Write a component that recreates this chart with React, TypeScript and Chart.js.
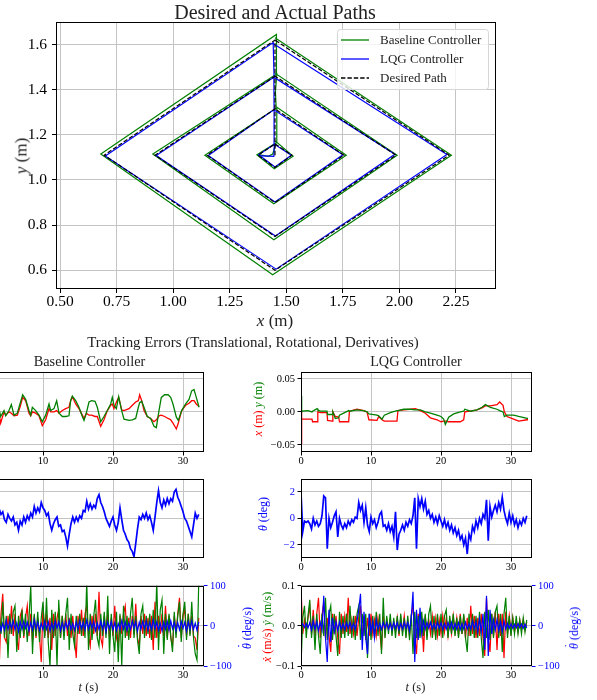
import React, { useEffect, useRef } from 'react';
import { Chart, registerables } from 'chart.js';
Chart.register(...registerables);

const SERIF = "'Liberation Serif', 'Times New Roman', serif";
const GRID = '#c4c4c4';
const RED = '#ff0000';
const GREEN = '#008000';
const BLUE = '#0000ff';

// ---------- Main path plot data ----------
const desiredX = [1.45, 1.45, 1.375, 1.45, 1.525, 1.45, 1.45, 1.15, 1.45, 1.755, 1.45, 1.45, 0.92, 1.45, 1.985, 1.45, 1.45, 0.695, 1.45, 2.22, 1.45];
const desiredY = [1.11, 1.16, 1.11, 1.055, 1.11, 1.16, 1.315, 1.11, 0.9, 1.11, 1.315, 1.46, 1.11, 0.75, 1.11, 1.46, 1.62, 1.11, 0.6, 1.11, 1.62];
const lqgPathX = [1.378, 1.445, 1.447, 1.378, 1.45, 1.522, 1.448, 1.446, 1.155, 1.45, 1.75, 1.446, 1.445, 0.925, 1.452, 1.98, 1.446, 1.442, 0.7, 1.455, 2.21, 1.44];
const lqgPathY = [1.108, 1.105, 1.158, 1.112, 1.058, 1.11, 1.158, 1.312, 1.108, 0.903, 1.112, 1.31, 1.455, 1.108, 0.752, 1.114, 1.455, 1.609, 1.106, 0.605, 1.113, 1.606];
const basePathX = [1.378, 1.42, 1.44, 1.455, 1.37, 1.447, 1.53, 1.455, 1.458, 1.14, 1.445, 1.765, 1.455, 1.452, 1.458, 0.91, 1.445, 1.99, 1.455, 1.455, 1.458, 0.68, 1.44, 2.23, 1.45];
const basePathY = [1.112, 1.105, 1.115, 1.165, 1.112, 1.05, 1.105, 1.17, 1.32, 1.11, 0.895, 1.11, 1.325, 1.39, 1.47, 1.115, 0.735, 1.11, 1.47, 1.55, 1.645, 1.115, 0.58, 1.11, 1.63];
const mainXTicks = [0.5, 0.75, 1.0, 1.25, 1.5, 1.75, 2.0, 2.25];
const mainYTicks = [0.6, 0.8, 1.0, 1.2, 1.4, 1.6];

// ---------- Tracking errors: translational (m) ----------
const baseErrT = [0, 0.8, 1.6, 2.4, 3.1,
  3.71, 3.95, 4.43, 4.67, 5.14, 5.48, 5.86, 6.33, 6.71, 7.10,
  7.52, 8.00, 8.24, 8.48, 8.95, 9.43, 9.90, 10.38, 10.86, 11.10,
  11.57, 11.95, 12.29, 12.76, 13.24, 13.71, 13.95, 14.19, 14.67, 15.14,
  15.62, 15.86, 16.19, 16.57, 16.95, 17.43, 17.76, 18.24, 18.71, 19.19,
  19.67, 19.90, 20.14, 20.48, 20.81, 21.24, 21.57, 22.29, 22.76, 23.24,
  23.62, 23.81, 24.10, 24.43, 24.90, 25.38, 25.86, 26.19, 26.57, 26.90,
  27.38, 27.86, 28.24, 28.57, 29.05, 29.33, 29.81, 30.38, 30.86, 31.24,
  31.57, 31.90, 32.29];
const baseErrX = [0, -0.006, 0.004, -0.008, 0.003,
  -0.002, -0.017, 0.000, -0.005, 0.000, -0.002, -0.006, -0.005, 0.007, 0.022,
  0.017, -0.002, -0.006, 0.000, -0.002, -0.006, -0.021, -0.012, 0.005, 0.000,
  0.000, 0.002, -0.002, 0.002, 0.005, 0.007, 0.017, 0.023, 0.012, 0.005,
  -0.005, -0.010, -0.002, -0.005, -0.005, -0.007, -0.007, -0.022, -0.012, 0.002,
  0.010, 0.012, 0.005, 0.015, 0.022, 0.003, 0.002, 0.005, 0.010, 0.015,
  0.017, 0.026, 0.017, 0.002, -0.007, -0.010, -0.015, -0.012, -0.006, -0.005,
  -0.007, -0.010, -0.012, -0.017, -0.026, -0.017, 0.002, 0.010, 0.013, 0.017,
  0.017, 0.012, 0.008];
const baseErrY = [0, 0.008, -0.004, 0.006, -0.003,
  0.005, -0.007, 0.002, -0.006, 0.002, 0.011, -0.005, -0.002, 0.012, 0.026,
  0.019, 0.002, -0.005, 0.007, 0.002, -0.005, -0.015, -0.005, 0.012, 0.002,
  0.005, 0.017, -0.002, -0.007, -0.007, -0.006, 0.017, 0.024, 0.017, 0.007,
  -0.007, -0.013, -0.002, 0.015, 0.017, 0.016, 0.007, -0.015, -0.007, 0.002,
  0.012, 0.022, 0.010, 0.005, 0.023, 0.002, -0.011, -0.013, -0.012, -0.010,
  0.007, 0.014, 0.016, 0.007, -0.007, -0.010, -0.022, -0.024, 0.002, 0.022,
  0.026, 0.026, 0.022, 0.012, -0.008, -0.013, 0.002, 0.012, 0.019, 0.032,
  0.034, 0.022, 0.007];

const lqgErrT = [0, 0.04, 0.14, 1.0, 1.57, 1.65, 2.29, 2.4, 2.76, 3.71,
  3.8, 4.43, 4.55, 4.9, 5.38, 5.5, 6.81, 6.92, 8.0, 8.95,
  9.43, 9.7, 10.86, 11.1, 11.57, 11.9, 12.76, 13.71, 13.85, 14.67,
  15.62, 16.33, 17.05, 17.76, 18.48, 19.43, 20.0, 20.38, 20.62, 21.1,
  21.81, 22.76, 23.24, 23.4, 24.19, 25.14, 25.86, 26.33, 27.05, 28.0,
  28.38, 28.86, 29.05, 29.43, 30.38, 31.1, 32.29, 32.43];
const lqgErrX = [0.0, -0.049, -0.011, -0.011, -0.011, -0.015, -0.015, 0.000, -0.001, -0.001,
  -0.013, -0.014, 0.000, -0.007, -0.008, -0.015, -0.015, 0.001, 0.004, 0.002,
  0.000, -0.012, -0.013, -0.007, -0.012, -0.014, -0.014, -0.014, 0.002, 0.003,
  0.004, 0.005, 0.002, -0.002, -0.009, -0.012, -0.015, -0.014, -0.014, -0.015,
  -0.015, -0.015, -0.012, 0.000, 0.001, 0.003, 0.006, 0.009, 0.009, 0.011,
  0.015, 0.010, 0.000, -0.007, -0.011, -0.014, -0.012, -0.012];
const lqgErrY = [0.0, 0.024, 0.001, 0.002, 0.000, 0.001, 0.005, 0.003, 0.001, 0.001,
  -0.004, -0.004, 0.000, -0.010, -0.009, -0.005, 0.002, 0.001, 0.003, 0.002,
  0.000, -0.003, -0.005, -0.006, -0.011, -0.005, -0.001, 0.002, 0.002, 0.004,
  0.004, 0.003, 0.003, 0.000, -0.002, -0.005, -0.007, -0.011, -0.019, -0.008,
  -0.003, 0.000, 0.001, 0.004, 0.001, 0.003, 0.007, 0.011, 0.007, 0.004,
  0.002, 0.000, -0.007, -0.005, -0.005, -0.007, -0.010, -0.010];

// ---------- Sampled series on a 0.25 s grid ----------
const DT = 0.25;
const baseTheta = [
  0.0, 0.3, -0.2, 0.4, 0.1, 0.5, 0.2, 0.6, 0.3, 0.7,
  0.4, 0.9, 0.5, 0.8, 0.4, 0.7, 0.3, 0.5, -0.1, -0.3,
  0.3, 0.0, -0.2, 0.1, -0.5, -0.3, -0.9, -0.2, -0.5, 0.1,
  -0.3, 0.2, -0.1, 0.4, 0.1, 0.9, 0.4, 0.8, 0.5, 1.2,
  0.8, 0.6, 0.2, 0.4, -0.4, -0.9, -0.4, -0.1, 0.1, -0.6,
  -0.5, -1.0, -0.9, -1.4, -2.1, -1.2, -0.4, 0.1, -0.3, 0.1,
  -0.2, 0.2, 0.0, 0.6, 0.5, 1.3, 0.7, 1.1, 0.7, 1.0,
  0.8, 1.5, 1.8, 1.2, 0.9, 0.5, 0.0, -0.3, -0.6, -0.2,
  0.1, -0.5, -0.9, -0.3, 0.8, -0.1, -0.9, -1.2, -1.6, -1.8,
  -2.3, -2.5, -2.9, -1.9, -0.8, 0.1, -0.1, 0.3, 0.0, 0.4,
  -0.1, 0.2, -0.3, -0.9, 0.1, 1.2, 2.1, 1.2, 0.8, 1.4,
  1.0, 1.5, 1.1, 1.5, 1.3, 2.0, 2.2, 1.6, 1.3, 0.9,
  0.5, 0.0, -0.2, -0.6, -1.0, -1.4, -0.5, 0.4, 0.0, 0.3];
const lqgTheta = [
  2.0, -1.0, -0.2, -0.3, -0.2, -0.4, -0.8, 0.0, -0.5, -0.2,
  -0.6, -0.4, 0.2, 1.7, 1.55, -2.3, 0.0, -0.7, -0.3, 0.2,
  0.5, -1.4, 0.0, -0.5, -0.8, -0.4, -0.7, -0.2, -0.5, -0.1,
  -0.3, 0.1, 0.0, 1.2, 0.6, 1.0, -0.3, 0.8, -0.5, -1.0,
  0.1, -0.4, -0.1, -0.7, -0.3, 0.3, 0.5, -0.6, -0.5, -0.9,
  -0.4, -1.0, -0.6, -1.4, 0.5, -2.4, -1.2, -0.9, -0.5, -0.9,
  -0.3, -0.6, -0.1, -0.4, 0.2, 1.55, -2.3, 1.5, 0.9, 1.5,
  0.7, 1.3, 0.3, 0.6, 0.0, 0.3, -0.3, 0.1, -0.4, 0.2,
  -0.2, -0.6, -0.1, -0.7, -0.3, -0.9, -0.5, -1.1, -0.7, -1.3,
  -0.9, -1.6, -1.3, -2.0, -1.5, -2.7, -1.2, -1.6, -0.6, -1.0,
  -0.2, -0.7, 0.0, -0.4, 0.3, 0.0, 1.4, -1.7, 0.9, 0.1,
  0.6, 1.0, 0.5, 1.2, 0.7, 1.6, 0.6, 0.0, -0.4, 0.4,
  -0.3, 0.2, -0.5, -0.1, -0.7, -0.2, -0.5, 0.0, -0.3, 0.2];

const baseVx = [
  0.000, -0.030, 0.040, -0.025, 0.030, -0.045, 0.020, -0.035, 0.045, -0.020,
  0.030, -0.040, 0.025, -0.030, 0.035, -0.100, 0.030, 0.080, -0.030, -0.040,
  0.025, -0.020, 0.050, -0.025, 0.030, -0.030, -0.060, 0.025, 0.040, -0.030,
  0.020, 0.050, -0.025, 0.030, -0.040, 0.025, -0.030, 0.020, -0.025, -0.090,
  0.050, -0.025, 0.030, -0.030, 0.020, -0.060, 0.030, -0.025, 0.020, 0.040,
  -0.030, 0.025, -0.020, 0.030, -0.025, 0.020, -0.030, 0.025, -0.030, -0.080,
  0.025, -0.020, 0.040, -0.025, 0.030, 0.050, -0.025, -0.050, 0.025, -0.020,
  0.030, -0.025, 0.085, -0.030, -0.050, 0.025, -0.020, 0.030, -0.030, 0.020,
  -0.025, 0.050, -0.030, -0.050, 0.025, -0.020, 0.030, 0.050, -0.025, 0.020,
  -0.030, 0.025, -0.020, 0.055, -0.030, -0.050, 0.025, -0.020, 0.030, -0.025,
  0.020, -0.030, 0.025, -0.060, 0.060, -0.030, 0.025, -0.020, 0.030, -0.025,
  0.050, -0.030, 0.025, -0.030, -0.050, 0.025, -0.020, 0.030, 0.070, -0.030,
  0.025, 0.040, -0.025, 0.030, -0.020, 0.025, -0.025, -0.030, -0.060, 0.020];
const baseVy = [
  0.000, 0.030, -0.040, 0.020, -0.050, 0.045, -0.020, 0.035, -0.045, 0.025,
  -0.030, 0.050, -0.035, 0.020, -0.040, 0.030, -0.020, 0.060, -0.030, 0.025,
  -0.080, 0.030, -0.020, 0.035, 0.050, -0.065, 0.025, -0.030, 0.040, -0.025,
  0.030, -0.040, 0.020, 0.100, -0.070, 0.030, -0.025, 0.035, -0.040, 0.020,
  0.060, -0.030, 0.070, -0.040, -0.100, 0.040, -0.030, 0.035, -0.100, 0.065,
  -0.030, 0.025, -0.035, 0.030, 0.070, -0.060, 0.030, -0.020, -0.050, 0.025,
  -0.020, 0.030, -0.025, 0.020, -0.030, 0.110, -0.060, 0.030, -0.035, 0.025,
  0.065, -0.030, -0.050, 0.030, -0.025, 0.035, -0.030, 0.075, -0.070, 0.030,
  -0.025, -0.065, 0.035, -0.090, 0.030, -0.100, 0.050, -0.030, 0.025, -0.035,
  0.030, 0.070, -0.030, 0.025, -0.035, -0.070, 0.030, 0.050, -0.030, 0.025,
  -0.020, 0.030, -0.035, 0.040, -0.030, 0.110, -0.060, 0.040, 0.065, -0.070,
  0.030, -0.035, 0.030, -0.025, -0.065, 0.035, -0.030, 0.025, 0.060, -0.040,
  0.030, 0.060, -0.035, 0.030, -0.025, 0.060, -0.030, -0.070, -0.085, 0.110];
const baseRate = [
  0, 10, -8, 12, -11, 7, -9, 14, -6, 9,
  -13, 8, -10, 11, -7, 9, -12, 6, -10, 13,
  -8, 10, -6, 12, -9, 7, -14, 10, -8, 11,
  -6, 9, -12, 8, -10, 15, -7, 9, -11, 6,
  -9, 12, -8, 10, -13, 7, -9, 11, -6, 10,
  -12, 8, -10, 9, -7, 13, -9, 6, -11, 10,
  -8, 12, -7, 9, -10, 14, -8, 11, -6, 10,
  -12, 7, -9, 12, -8, 10, -15, 9, -7, 11,
  -10, 8, -12, 6, -9, 13, -8, 10, -11, 7,
  -9, 12, -6, 10, -13, 9, -8, 11, -7, 12,
  -10, 8, -9, 14, -7, 10, -11, 6, -12, 9,
  -8, 11, -10, 13, -7, 9, -12, 8, -10, 11,
  -6, 9, -13, 10, -8, 12, -9, 7, -11, 10];

const lqgVx = [
  0.100, -0.020, 0.015, -0.010, 0.020, 0.050, -0.020, 0.040, -0.025, 0.030,
  0.070, -0.030, 0.025, 0.060, -0.030, 0.020, -0.025, -0.065, 0.030, -0.020,
  0.025, -0.030, -0.070, 0.030, -0.020, 0.025, -0.015, 0.070, -0.020, 0.015,
  -0.020, 0.025, -0.025, 0.020, 0.050, -0.030, 0.025, -0.035, 0.020, -0.025,
  0.030, -0.020, 0.015, -0.025, 0.020, -0.015, -0.060, 0.025, -0.020, 0.015,
  -0.010, 0.015, -0.015, 0.010, -0.015, 0.020, -0.025, 0.020, -0.015, 0.025,
  -0.020, 0.015, -0.025, 0.020, 0.055, -0.030, -0.070, 0.030, -0.025, 0.020,
  -0.065, 0.025, -0.020, 0.015, -0.020, 0.025, -0.015, 0.020, -0.025, 0.015,
  -0.020, 0.025, -0.015, 0.020, -0.025, 0.015, -0.020, 0.025, -0.015, 0.020,
  -0.025, 0.030, -0.020, 0.025, -0.030, 0.020, -0.025, 0.050, -0.020, 0.025,
  -0.030, 0.020, -0.025, 0.030, -0.030, -0.075, 0.070, -0.030, -0.065, 0.030,
  -0.025, 0.035, -0.060, 0.030, -0.025, 0.030, -0.080, 0.035, -0.020, 0.025,
  -0.015, 0.020, -0.015, 0.010, -0.015, 0.015, -0.010, 0.015, -0.010, 0.010];
const lqgVy = [
  -0.100, 0.020, 0.050, -0.030, 0.025, 0.065, -0.030, 0.025, -0.060, 0.030,
  -0.025, -0.070, 0.030, -0.025, 0.070, -0.035, 0.030, 0.050, -0.035, 0.030,
  -0.025, -0.075, 0.035, -0.030, 0.025, -0.030, 0.030, -0.025, 0.050, -0.030,
  0.025, -0.035, 0.030, 0.050, -0.035, 0.030, -0.025, 0.030, -0.080, 0.030,
  -0.035, 0.025, -0.030, 0.035, -0.025, 0.030, -0.070, 0.070, -0.030, 0.025,
  -0.020, 0.030, -0.025, 0.020, -0.030, 0.025, -0.020, 0.030, -0.025, 0.020,
  -0.030, 0.025, -0.035, 0.030, -0.070, 0.035, -0.030, 0.025, -0.030, 0.035,
  -0.025, 0.030, -0.035, 0.030, 0.050, -0.030, 0.025, -0.035, 0.030, -0.025,
  0.030, -0.030, 0.025, 0.040, -0.030, 0.025, -0.020, 0.030, -0.025, 0.020,
  -0.030, 0.025, -0.020, 0.030, -0.030, -0.065, 0.030, -0.025, 0.030, -0.030,
  0.025, -0.030, 0.035, -0.030, -0.080, 0.035, -0.030, 0.040, -0.035, 0.030,
  -0.030, 0.035, 0.050, -0.030, 0.030, -0.065, 0.030, 0.070, -0.030, 0.025,
  -0.025, 0.020, -0.020, 0.025, -0.020, 0.015, -0.020, 0.020, -0.015, 0.015];
const lqgRate = [
  0, 5, -4, 6, -5, 8, -10, 12, -8, 10,
  -12, 9, -10, 75, -30, -90, 40, -40, 20, -15,
  10, -12, 9, -8, 6, -9, 8, -6, 9, -8,
  6, -9, 12, 40, 80, -60, 35, -30, -70, 30,
  -15, 10, -30, 15, -8, 6, -9, 8, -6, 8,
  -8, 6, -9, 8, -6, 8, -9, 6, -8, 9,
  -6, 8, -12, 20, 85, -90, 40, -35, 45, -20,
  12, -8, 8, -6, 9, -8, 6, -8, 9, -6,
  8, -9, 6, -8, 8, -6, 9, -8, 6, -8,
  8, -9, 6, -8, 9, -8, 6, -8, 12, -8,
  10, -15, 18, -15, 30, -60, 75, -75, 40, -20,
  15, -10, 15, -12, 10, -15, 12, -8, 6, -6,
  5, -6, 4, -5, 6, -4, 5, -6, 4, -5];

const timeTicks = [0, 10, 20, 30];
const posTicks = [-0.05, 0, 0.05];
const angTicks = [-2, 0, 2];
const velTicks = [-0.1, 0, 0.1];
const rateTicks = [-100, 0, 100];

// ---------- helpers ----------
type Fmt = (v: number) => string;
const minus = (s: string) => s.replace('-', '\u2212');
const f2: Fmt = (v) => minus(v.toFixed(2));
const f1: Fmt = (v) => minus(v.toFixed(1));
const f0: Fmt = (v) => minus(String(Math.round(v)));

const pts = (xs: number[], ys: number[]) => ys.map((y, i) => ({ x: xs[i], y }));
const onGrid = (ys: number[]) => ys.map((y, i) => ({ x: i * DT, y }));

type Area = { l: number; t: number; r: number; b: number };
type Margins = { left: number; right: number; top: number; bottom: number };

interface AxisOpts {
  pos: 'bottom' | 'left' | 'right';
  min: number; max: number; ticks: number[]; fmt: Fmt;
  size: number; extent: number; tl: number; pad: number;
  color?: string; tickColor?: string; grid?: boolean;
}
function axis(o: AxisOpts) {
  const horizontal = o.pos === 'bottom';
  return {
    type: 'linear',
    position: o.pos,
    min: o.min,
    max: o.max,
    afterBuildTicks: (s: any) => { s.ticks = o.ticks.map((v) => ({ value: v })); },
    afterFit: (s: any) => { if (horizontal) s.height = o.extent; else s.width = o.extent; },
    border: { display: false },
    grid: {
      display: true,
      drawOnChartArea: o.grid !== false,
      color: GRID,
      lineWidth: 1,
      drawTicks: true,
      tickLength: o.tl,
      tickColor: o.tickColor || '#000',
      tickWidth: 1,
    },
    ticks: {
      autoSkip: false, maxRotation: 0, minRotation: 0, padding: o.pad,
      color: o.color || '#000',
      font: { family: SERIF, size: o.size, lineHeight: 1 },
      callback: (v: any) => o.fmt(Number(v)),
    },
  };
}

const framePlugin = {
  id: 'frame',
  afterDraw(chart: any) {
    const { ctx, chartArea: a } = chart;
    ctx.save();
    ctx.strokeStyle = '#000';
    ctx.lineWidth = 1;
    ctx.strokeRect(Math.round(a.left) + 0.5, Math.round(a.top) + 0.5, Math.round(a.width) - 1, Math.round(a.height) - 1);
    ctx.restore();
  },
};

const legendPlugin = {
  id: 'pathLegend',
  afterDraw(chart: any) {
    const { ctx, chartArea: a } = chart;
    const items = chart.data.datasets.slice().sort((p: any, q: any) => q.order - p.order);
    const w = 151, h = 60;
    const x0 = a.right - w - 8, y0 = a.top + 7;
    ctx.save();
    ctx.beginPath();
    ctx.roundRect(x0 + 0.5, y0 + 0.5, w, h, 3);
    ctx.fillStyle = 'rgba(255,255,255,0.8)';
    ctx.fill();
    ctx.strokeStyle = '#d6d6d6';
    ctx.lineWidth = 1;
    ctx.stroke();
    ctx.font = `13px ${SERIF}`;
    ctx.textBaseline = 'middle';
    items.forEach((d: any, i: number) => {
      const yy = y0 + 11 + i * 19;
      ctx.beginPath();
      ctx.setLineDash(d.borderDash || []);
      ctx.strokeStyle = d.borderColor;
      ctx.lineWidth = 1.3;
      ctx.moveTo(x0 + 4, yy);
      ctx.lineTo(x0 + 32, yy);
      ctx.stroke();
      ctx.setLineDash([]);
      ctx.fillStyle = '#222';
      ctx.fillText(d.label, x0 + 43, yy + 1);
    });
    ctx.restore();
  },
};

function line(label: string, data: any[], color: string, width: number, order: number, extra: any = {}) {
  return { label, data, showLine: true, borderColor: color, backgroundColor: color, borderWidth: width, pointRadius: 0, fill: false, tension: 0, order, ...extra };
}

function baseOptions(scales: any, padding: any) {
  return {
    responsive: false,
    animation: false,
    devicePixelRatio: 1,
    events: [],
    layout: { padding },
    plugins: { legend: { display: false }, tooltip: { enabled: false }, title: { display: false } },
    scales,
  };
}

function ChartBox({ area, m, build }: { area: Area; m: Margins; build: (m: Margins) => any }) {
  const ref = useRef<HTMLCanvasElement>(null);
  const w = area.r - area.l + m.left + m.right;
  const h = area.b - area.t + m.top + m.bottom;
  useEffect(() => {
    const chart = new Chart(ref.current as HTMLCanvasElement, build(m));
    return () => chart.destroy();
  }, []);
  return (
    <canvas
      ref={ref}
      width={w}
      height={h}
      style={{ position: 'absolute', left: area.l - m.left, top: area.t - m.top, width: w, height: h }}
    />
  );
}

// ---------- chart builders ----------
const buildMain = (m: Margins) => ({
  type: 'scatter',
  data: {
    datasets: [
      line('Baseline Controller', pts(basePathX, basePathY), GREEN, 1.2, 2),
      line('LQG Controller', pts(lqgPathX, lqgPathY), BLUE, 1.2, 1),
      line('Desired Path', pts(desiredX, desiredY), '#000', 1.2, 0, { borderDash: [4.4, 2] }),
    ],
  },
  options: baseOptions(
    {
      x: axis({ pos: 'bottom', min: 0.482, max: 2.427, ticks: mainXTicks, fmt: f2, size: 15.5, extent: m.bottom, tl: 4, pad: 1 }),
      y: axis({ pos: 'left', min: 0.517, max: 1.70, ticks: mainYTicks, fmt: f1, size: 15.5, extent: m.left, tl: 4, pad: 5 }),
    },
    { left: 0, right: m.right, top: m.top, bottom: 0 }
  ),
  plugins: [framePlugin, legendPlugin],
});

const tAxis = (m: Margins) => axis({ pos: 'bottom', min: 0, max: 33, ticks: timeTicks, fmt: f0, size: 10.5, extent: m.bottom, tl: 3.5, pad: 0.5 });

const buildPosErr = (t: number[], ex: number[], ey: number[]) => (m: Margins) => ({
  type: 'scatter',
  data: {
    datasets: [
      line('y error', pts(t, ey), GREEN, 1.3, 0),
      line('x error', pts(t, ex), RED, 1.3, 1),
    ],
  },
  options: baseOptions(
    {
      x: tAxis(m),
      y: axis({ pos: 'left', min: -0.061, max: 0.061, ticks: posTicks, fmt: f2, size: 10.5, extent: m.left, tl: 3.5, pad: 2.5 }),
    },
    { left: 0, right: m.right, top: m.top, bottom: 0 }
  ),
  plugins: [framePlugin],
});

const buildAngErr = (th: number[]) => (m: Margins) => ({
  type: 'scatter',
  data: { datasets: [line('theta error', onGrid(th), BLUE, 1.7, 0)] },
  options: baseOptions(
    {
      x: tAxis(m),
      y: axis({ pos: 'left', min: -3, max: 3, ticks: angTicks, fmt: f0, size: 10.5, extent: m.left, tl: 3.5, pad: 2.5, color: BLUE }),
    },
    { left: 0, right: m.right, top: m.top, bottom: 0 }
  ),
  plugins: [framePlugin],
});

const buildDeriv = (vx: number[], vy: number[], rate: number[]) => (m: Margins) => ({
  type: 'scatter',
  data: {
    datasets: [
      line('theta rate', onGrid(rate), BLUE, 1.2, 0, { yAxisID: 'y2' }),
      line('y rate', onGrid(vy), GREEN, 1.2, 1),
      line('x rate', onGrid(vx), RED, 1.2, 2),
    ],
  },
  options: baseOptions(
    {
      x: tAxis(m),
      y: axis({ pos: 'left', min: -0.1, max: 0.1, ticks: velTicks, fmt: f1, size: 10.5, extent: m.left, tl: 3.5, pad: 2.5 }),
      y2: axis({ pos: 'right', min: -100, max: 100, ticks: rateTicks, fmt: f0, size: 10.5, extent: m.right, tl: 3.5, pad: 2.5, color: BLUE, tickColor: BLUE, grid: false }),
    },
    { left: 0, right: 0, top: m.top, bottom: 0 }
  ),
  plugins: [framePlugin],
});

// ---------- layout ----------
const MAIN_AREA: Area = { l: 56, t: 22, r: 496, b: 289 };
const MAIN_M: Margins = { left: 56, right: 101, top: 22, bottom: 51 };
const SUB_M: Margins = { left: 40, right: 8, top: 4, bottom: 20 };
const SUB3_M: Margins = { left: 40, right: 45, top: 4, bottom: 20 };
const colL = { l: -27, r: 204 };
const colR = { l: 301, r: 532 };
const row1 = { t: 368, b: 452 };
const row2 = { t: 475, b: 558 };
const row3 = { t: 582, b: 666 };

function Txt({ x, y, size, rot, color = '#000', children }: { x: number; y: number; size: number; rot?: boolean; color?: string; children: React.ReactNode }) {
  return (
    <div
      style={{
        position: 'absolute', left: x, top: y,
        transform: `translate(-50%, -50%)${rot ? ' rotate(-90deg)' : ''}`,
        fontFamily: SERIF, fontSize: size, lineHeight: 1, whiteSpace: 'nowrap', color,
      }}
    >
      {children}
    </div>
  );
}

function DotTheta() {
  return (
    <span style={{ position: 'relative', display: 'inline-block' }}>
      <i>θ</i>
      <span style={{ position: 'absolute', left: '55%', top: '-0.42em', transform: 'translateX(-50%)' }}>˙</span>
    </span>
  );
}

export default function App() {
  return (
    <div style={{ position: 'absolute', left: 0, top: 0, width: 597, height: 700, overflow: 'hidden', background: '#fff' }}>
      <ChartBox area={MAIN_AREA} m={MAIN_M} build={buildMain} />

      <ChartBox area={{ ...colL, ...row1 }} m={SUB_M} build={buildPosErr(baseErrT, baseErrX, baseErrY)} />
      <ChartBox area={{ ...colR, ...row1 }} m={SUB_M} build={buildPosErr(lqgErrT, lqgErrX, lqgErrY)} />
      <ChartBox area={{ ...colL, ...row2 }} m={SUB_M} build={buildAngErr(baseTheta)} />
      <ChartBox area={{ ...colR, ...row2 }} m={SUB_M} build={buildAngErr(lqgTheta)} />
      <ChartBox area={{ ...colL, ...row3 }} m={SUB3_M} build={buildDeriv(baseVx, baseVy, baseRate)} />
      <ChartBox area={{ ...colR, ...row3 }} m={SUB3_M} build={buildDeriv(lqgVx, lqgVy, lqgRate)} />

      <Txt x={275} y={12} size={20} color="#222">Desired and Actual Paths</Txt>
      <Txt x={21} y={156} size={17} rot color="#222"><i>y</i> (m)</Txt>
      <Txt x={275} y={320} size={17} color="#222"><i>x</i> (m)</Txt>

      <Txt x={253} y={341.5} size={14.9} color="#222">Tracking Errors (Translational, Rotational, Derivatives)</Txt>
      <Txt x={89.5} y={360.5} size={14.3} color="#222">Baseline Controller</Txt>
      <Txt x={416} y={360.5} size={14.3} color="#222">LQG Controller</Txt>

      <Txt x={258} y={409} size={12} rot>
        <span style={{ color: RED }}><i>x</i> (m)</span> <span style={{ color: GREEN }}><i>y</i> (m)</span>
      </Txt>
      <Txt x={263} y={514} size={12} rot color={BLUE}><i>θ</i> (deg)</Txt>
      <Txt x={266.5} y={627} size={12} rot>
        <span style={{ color: RED }}><i>ẋ</i> (m/s)</span> <span style={{ color: GREEN }}><i>ẏ</i> (m/s)</span>
      </Txt>
      <Txt x={246.5} y={628} size={12} rot color={BLUE}><DotTheta /> (deg/s)</Txt>
      <Txt x={574} y={628} size={12} rot color={BLUE}><DotTheta /> (deg/s)</Txt>
      <Txt x={88.5} y={687} size={12.5} color="#222"><i>t</i> (s)</Txt>
      <Txt x={415.5} y={687} size={12.5} color="#222"><i>t</i> (s)</Txt>
    </div>
  );
}
